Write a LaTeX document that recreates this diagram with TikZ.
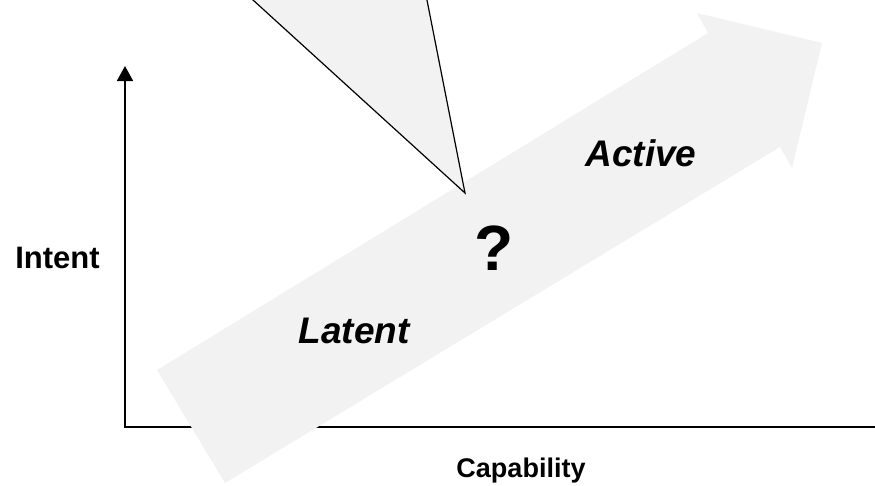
\documentclass[tikz,border=0pt]{standalone}
\usepackage{fontspec}
\setmainfont{Liberation Sans}
\usetikzlibrary{arrows.meta}
\definecolor{paleband}{RGB}{242,242,242}
\begin{document}
\begin{tikzpicture}[x=1pt,y=-1pt,
  axisline/.style={line width=1.8pt,black},
  bigarrow/.style={fill=paleband,draw=none},
  callout/.style={fill=paleband,draw=black,line width=1.2pt,line join=miter},
  axislabel/.style={font=\bfseries\fontsize{27}{32}\selectfont,anchor=base,inner sep=0pt},
  phaselabel/.style={font=\bfseries\itshape\fontsize{37}{44}\selectfont,anchor=base,inner sep=0pt},
  qlabel/.style={font=\bfseries\fontsize{64}{72}\selectfont,anchor=base,inner sep=0pt}]
  \clip (0,0) rectangle (875,485);

  % axes
  \coordinate (origin) at (124,427);
  \coordinate (ybase) at (125,427);
  \coordinate (ytop) at (125,66);
  \coordinate (xend) at (876,427);
  \draw[axisline,-{Triangle[length=15pt,width=16pt]}] (ybase) -- (ytop);
  \draw[axisline] (origin) -- (xend);

  % broad progression arrow
  \fill[bigarrow] (157,370) -- (708,33) -- (697,13) -- (822,43)
        -- (792,168) -- (780,147) -- (225,483) -- cycle;

  % speech-bubble pointer (open at the top, running off the page)
  \coordinate (apex) at (465,193);
  \coordinate (pl) at (242,-10);
  \coordinate (pr) at (425,-10);
  \draw[callout] (pl) -- (apex) -- (pr);

  % labels
  \node[axislabel,font=\bfseries\fontsize{31}{36}\selectfont] (intent) at (57.5,268) {Intent};
  \node[axislabel] (capab) at (521,477) {Capability};
  \node[phaselabel] (latent) at (354,343) {Latent};
  \node[phaselabel] (active) at (641,166) {Active};
  \node[qlabel] (q) at (494.5,270) {?};
\end{tikzpicture}
\end{document}
